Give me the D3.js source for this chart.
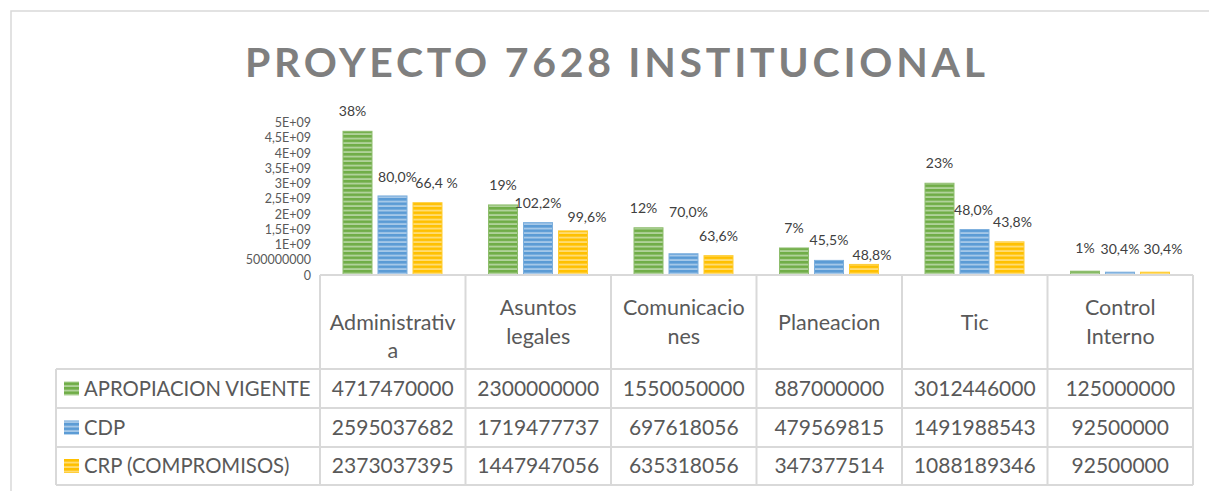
<!DOCTYPE html>
<html>
<head>
<meta charset="utf-8">
<script src="https://cdn.jsdelivr.net/npm/d3@7"></script>
<style>
  body { margin: 0; background: #fff; }
  svg text { font-family: Lato, "Open Sans", sans-serif; fill: #595959; }
</style>
</head>
<body>
<div id="container"></div>
<script>
const categories = ["Administrativa", "Asuntos legales", "Comunicaciones", "Planeacion", "Tic", "Control Interno"]
const categoryLines = [["", "Administrativ", "a"], ["Asuntos", "legales"], ["Comunicacio", "nes"], ["Planeacion"], ["Tic"], ["Control", "Interno"]]
const seriesNames = ["APROPIACION VIGENTE", "CDP", "CRP (COMPROMISOS)"]
const apropiacion = [4717470000, 2300000000, 1550050000, 887000000, 3012446000, 125000000]
const cdp = [2595037682, 1719477737, 697618056, 479569815, 1491988543, 92500000]
const crp = [2373037395, 1447947056, 635318056, 347377514, 1088189346, 92500000]
const pctApropiacion = ["38%", "19%", "12%", "7%", "23%", "1%"]
const pctCdp = ["80,0%", "102,2%", "70,0%", "45,5%", "48,0%", "30,4%"]
const pctCrp = ["66,4 %", "99,6%", "63,6%", "48,8%", "43,8%", "30,4%"]
const yTicks = [0, 5e8, 1e9, 1.5e9, 2e9, 2.5e9, 3e9, 3.5e9, 4e9, 4.5e9, 5e9]
const yTickLabels = ["0", "500000000", "1E+09", "1,5E+09", "2E+09", "2,5E+09", "3E+09", "3,5E+09", "4E+09", "4,5E+09", "5E+09"]

const width = 1209
const height = 491
const colors = ["#70AD47", "#5B9BD5", "#FFC000"]
const lineColor = "#D9D9D9"

const plot = { left: 320, right: 1193, top: 122.7, bottom: 275 }
const table = { left: 56, rowTops: [369, 408, 447, 485] }

const seriesValues = [apropiacion, cdp, crp]
const seriesPct = [pctApropiacion, pctCdp, pctCrp]

const svg = d3.select('#container').append('svg')
    .attr('width', width).attr('height', height)

// striped fills, like the Excel horizontal pattern
const defs = svg.append('defs')
colors.forEach((c, i) => {
    const p = defs.append('pattern')
        .attr('id', 'stripe' + i)
        .attr('patternUnits', 'userSpaceOnUse')
        .attr('width', 8).attr('height', 4.5)
    p.append('rect').attr('width', 8).attr('height', 4.5).attr('fill', c)
    p.append('rect').attr('y', 2.6).attr('width', 8).attr('height', 1.9)
        .attr('fill', d3.interpolateRgb(c, '#ffffff')(0.45))
})

// chart frame
svg.append('rect')
    .attr('x', 11).attr('y', 11).attr('width', 1220).attr('height', 500)
    .attr('fill', 'none').attr('stroke', lineColor).attr('stroke-width', 1.5)

svg.append('text')
    .attr('x', 615).attr('y', 77)
    .attr('text-anchor', 'middle')
    .attr('font-size', 41).attr('font-weight', 'bold')
    .attr('textLength', 740).attr('lengthAdjust', 'spacing')
    .style('fill', '#7F7F7F')
    .text("PROYECTO 7628 INSTITUCIONAL")

const x0 = d3.scaleBand().domain(categories).range([plot.left, plot.right])
const x1 = d3.scaleBand().domain(seriesNames).range([23, 122]).paddingInner(6 / 35)
const y = d3.scaleLinear().domain([0, 5e9]).range([plot.bottom, plot.top])

// y axis labels (no axis line)
const yAxis = d3.axisLeft(y).tickValues(yTicks)
    .tickFormat((d, i) => yTickLabels[i]).tickSize(0).tickPadding(0)
const gy = svg.append('g').attr('transform', 'translate(311,0)').call(yAxis)
gy.select('.domain').remove()
gy.selectAll('text').attr('font-size', 12.5).style('fill', '#595959')
    .style('font-family', 'Lato, sans-serif')

// bars
seriesNames.forEach((s, si) => {
    svg.append('g').selectAll('rect')
        .data(seriesValues[si])
        .join('rect')
        .attr('x', (d, i) => x0(categories[i]) + x1(s))
        .attr('y', d => y(d))
        .attr('width', x1.bandwidth())
        .attr('height', d => plot.bottom - y(d))
        .attr('fill', 'url(#stripe' + si + ')')
        .attr('stroke', d3.interpolateRgb(colors[si], '#ffffff')(0.2))
        .attr('stroke-width', 1)
})

// data labels, some were dragged by hand in the original
const labelNudge = [
    [[-5, 0], [0, 0], [-5, 0], [0, 0], [0, 0], [0, -3]],
    [[5, 1], [0, 0], [5, -22], [0, 0], [-1, 0], [0, -3]],
    [[9, 0], [14, 6], [0, 0], [8, 11], [3, 0], [8, -3]]
]
seriesNames.forEach((s, si) => {
    svg.append('g').selectAll('text')
        .data(seriesValues[si])
        .join('text')
        .attr('x', (d, i) => x0(categories[i]) + x1(s) + x1.bandwidth() / 2 + labelNudge[si][i][0])
        .attr('y', (d, i) => y(d) - 15 + labelNudge[si][i][1])
        .attr('text-anchor', 'middle')
        .attr('font-size', 14)
        .style('fill', '#404040')
        .text((d, i) => seriesPct[si][i])
})

// axis line / table top
svg.append('line')
    .attr('x1', plot.left).attr('x2', plot.right)
    .attr('y1', plot.bottom).attr('y2', plot.bottom)
    .attr('stroke', lineColor).attr('stroke-width', 2)

// data table grid
const tg = svg.append('g').attr('stroke', lineColor).attr('stroke-width', 2)
const colEdges = categories.map(c => x0(c)).concat([plot.right])
colEdges.forEach(xe => {
    tg.append('line').attr('x1', xe).attr('x2', xe)
        .attr('y1', plot.bottom).attr('y2', table.rowTops[3])
})
tg.append('line').attr('x1', table.left).attr('x2', table.left)
    .attr('y1', table.rowTops[0]).attr('y2', table.rowTops[3])
table.rowTops.forEach(yr => {
    tg.append('line').attr('x1', table.left).attr('x2', plot.right)
        .attr('y1', yr).attr('y2', yr)
})

// category header text
const headerMid = 322
categoryLines.forEach((lines, i) => {
    const t = svg.append('text')
        .attr('text-anchor', 'middle')
        .attr('font-size', 21.5)
    lines.forEach((ln, j) => {
        t.append('tspan')
            .attr('x', x0(categories[i]) + x0.bandwidth() / 2)
            .attr('y', headerMid + (j - (lines.length - 1) / 2) * 28.5)
            .attr('dy', '0.35em')
            .text(ln)
    })
})

// legend column + values
seriesNames.forEach((s, si) => {
    const rowMid = (table.rowTops[si] + table.rowTops[si + 1]) / 2
    svg.append('rect')
        .attr('x', 64).attr('y', rowMid - 7)
        .attr('width', 15).attr('height', 14)
        .attr('fill', 'url(#stripe' + si + ')')
    svg.append('text')
        .attr('x', 84).attr('y', rowMid)
        .attr('dy', '0.35em')
        .attr('font-size', 20.3)
        .text(s)
    svg.append('g').selectAll('text')
        .data(seriesValues[si])
        .join('text')
        .attr('x', (d, i) => x0(categories[i]) + x0.bandwidth() / 2)
        .attr('y', rowMid)
        .attr('dy', '0.35em')
        .attr('text-anchor', 'middle')
        .attr('font-size', 21)
        .text(d => d)
})
</script>
</body>
</html>
